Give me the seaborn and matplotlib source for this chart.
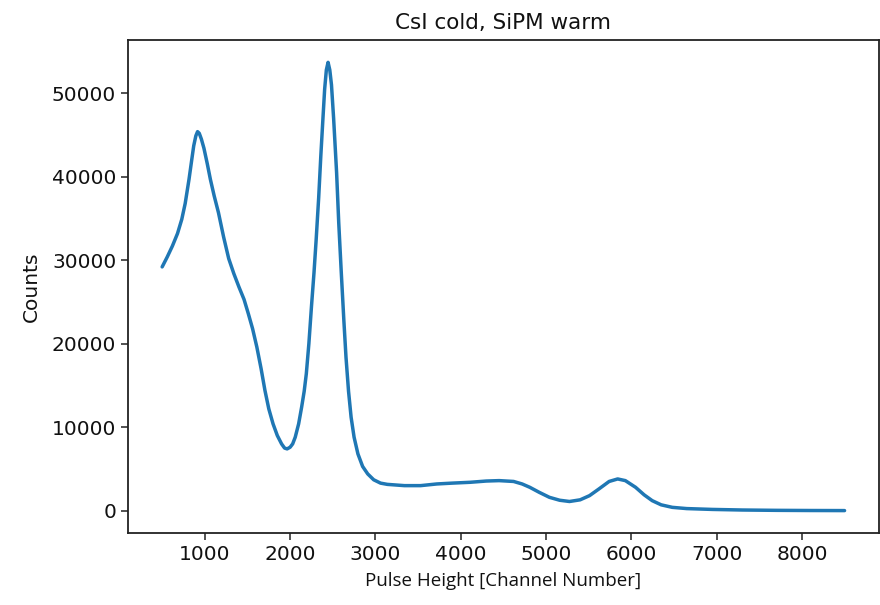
import matplotlib
matplotlib.use("Agg")
import matplotlib.pyplot as plt
import seaborn as sns
import pandas as pd

channel = [500, 560, 620, 680, 730, 770, 815, 845, 870, 895, 915, 935, 960, 990,
           1030, 1065, 1110, 1160, 1220, 1280, 1340, 1400, 1460, 1510, 1560, 1610,
           1660, 1705, 1750, 1800, 1850, 1900, 1935, 1965, 2000, 2030, 2060, 2100,
           2135, 2165, 2190, 2220, 2250, 2280, 2305, 2335, 2360, 2385, 2405, 2425,
           2445, 2465, 2485, 2510, 2545, 2570, 2600, 2630, 2655, 2685, 2715, 2750,
           2795, 2850, 2910, 2980, 3060, 3140, 3340, 3530, 3720, 3900, 4110, 4300,
           4450, 4620, 4720, 4810, 4920, 5040, 5160, 5275, 5400, 5510, 5620, 5740,
           5840, 5930, 6050, 6150, 6245, 6350, 6480, 6650, 6950, 7300, 7700, 8100,
           8500]
counts = [29200, 30400, 31700, 33200, 34900, 36800, 39700, 41900, 43700, 44900,
          45400, 45200, 44500, 43400, 41500, 39700, 37700, 35700, 32800, 30200,
          28400, 26800, 25300, 23600, 21800, 19600, 17000, 14400, 12200, 10400,
          9000, 8000, 7500, 7400, 7600, 8000, 8800, 10400, 12400, 14300, 16400,
          20000, 24400, 28500, 32400, 37500, 42500, 47000, 50500, 52800, 53700,
          52800, 51000, 47000, 40500, 34500, 28500, 22800, 18400, 14300, 11200,
          8800, 6800, 5300, 4400, 3700, 3300, 3150, 3000, 3000, 3200, 3300, 3400,
          3550, 3600, 3500, 3200, 2800, 2200, 1600, 1250, 1100, 1300, 1800, 2600,
          3500, 3800, 3600, 2800, 1900, 1200, 700, 400, 250, 150, 80, 40, 20, 10]

df = pd.DataFrame({"channel": channel, "counts": counts})

sns.set_style("white", {"text.color": "#111111", "axes.labelcolor": "#111111",
                        "xtick.color": "#111111", "ytick.color": "#111111"})
plt.rcParams["font.family"] = ["DejaVu Sans"]

fig = plt.figure(figsize=(8.8, 6.05), dpi=100)
ax = fig.add_axes([0.1455, 0.119, 0.853, 0.815])
sns.lineplot(data=df, x="channel", y="counts", ax=ax, color="#1f77b4", linewidth=2.5)

ax.set_xticks([1000, 2000, 3000, 4000, 5000, 6000, 7000, 8000])
ax.set_yticks([0, 10000, 20000, 30000, 40000, 50000])
ax.tick_params(axis="both", labelsize=14.5, length=5, width=1.1, direction="out",
               bottom=True, left=True, color="#222222", labelcolor="#111111")
for s in ax.spines.values():
    s.set_color("#222222")
    s.set_linewidth(1.3)
ax.set_title("CsI cold, SiPM warm", fontsize=15.5, pad=8, color="#111111")
ax.set_ylabel("Counts", fontsize=14.5, labelpad=8, color="#111111")
ax.set_xlabel("Pulse Height [Channel Number]", fontsize=13.5,
              family=["Open Sans", "DejaVu Sans"], labelpad=6, color="#111111")

fig.savefig("out.png", dpi=100)
